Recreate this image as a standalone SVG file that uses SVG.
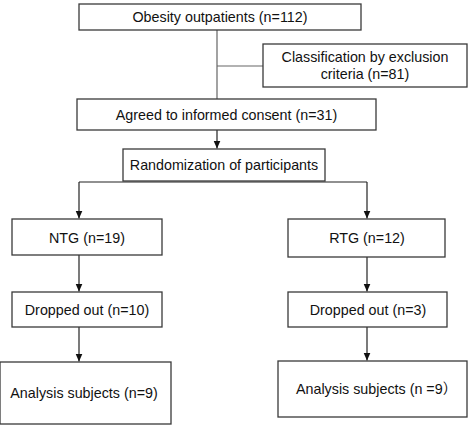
<svg xmlns="http://www.w3.org/2000/svg" width="472" height="428" viewBox="0 0 472 428">
<style>
.box{fill:#fff;stroke:#3a3a3a;stroke-width:1.3}
.t{font-family:"Liberation Sans",Arial,"Noto Sans CJK SC",sans-serif;font-size:14.3px;fill:#111;text-anchor:middle}
.cjk{font-family:"Noto Sans CJK SC","Noto Sans CJK JP",sans-serif}
.c{fill:none;stroke:#222;stroke-width:1.2}
.g{fill:none;stroke:#666;stroke-width:1.2}
</style>
<defs>
<marker id="ah" viewBox="0 0 8 8" refX="8" refY="4" markerWidth="8" markerHeight="8" markerUnits="userSpaceOnUse" orient="auto">
<path d="M0,0.5 L8,4 L0,7.5 Z" fill="#111"/>
</marker>
</defs>
<rect width="472" height="428" fill="#fff"/>
<g id="connectors">
<path class="g" d="M217,30 V99 M217,66 H263"/>
<path class="c" d="M217,130 V148.5" marker-end="url(#ah)"/>
<path class="c" d="M79,182 H367"/>
<path class="c" d="M79,182 V218.5" marker-end="url(#ah)"/>
<path class="c" d="M367,182 V218.5" marker-end="url(#ah)"/>
<path class="c" d="M79,255 V291.5" marker-end="url(#ah)"/>
<path class="c" d="M367,257 V291.5" marker-end="url(#ah)"/>
<path class="c" d="M79,327 V361.5" marker-end="url(#ah)"/>
<path class="c" d="M367,327 V360.5" marker-end="url(#ah)"/>
</g>
<g id="obesity"><rect class="box" x="79" y="4" width="282" height="26"/><text class="t" x="220" y="22">Obesity outpatients (n=112)</text></g>
<g id="exclusion"><rect class="box" x="263" y="44" width="204" height="43"/><text class="t" x="365" y="62">Classification by exclusion</text><text class="t" x="365" y="79">criteria (n=81)</text></g>
<g id="consent"><rect class="box" x="77" y="99" width="299" height="31"/><text class="t" x="226.5" y="119.5">Agreed to informed consent (n=31)</text></g>
<g id="random"><rect class="box" x="123" y="149" width="202" height="32"/><text class="t" x="224" y="170">Randomization of participants</text></g>
<g id="ntg"><rect class="box" x="12" y="219" width="150" height="36"/><text class="t" x="87" y="242.5">NTG (n=19)</text></g>
<g id="rtg"><rect class="box" x="288" y="219" width="157" height="38"/><text class="t" x="367" y="243">RTG (n=12)</text></g>
<g id="drop1"><rect class="box" x="12" y="292" width="150" height="35"/><text class="t" x="87" y="314.5">Dropped out (n=10)</text></g>
<g id="drop2"><rect class="box" x="288" y="292" width="159" height="35"/><text class="t" x="368" y="314.5">Dropped out (n=3)</text></g>
<g id="analysis1"><rect class="box" x="0" y="362" width="171" height="62"/><text class="t" x="84" y="398">Analysis subjects (n=9)</text></g>
<g id="analysis2"><rect class="box" x="278" y="361" width="189" height="56"/><text class="t" x="296" y="394" style="text-anchor:start">Analysis subjects (n =9<tspan class="cjk">）</tspan></text></g>
</svg>
